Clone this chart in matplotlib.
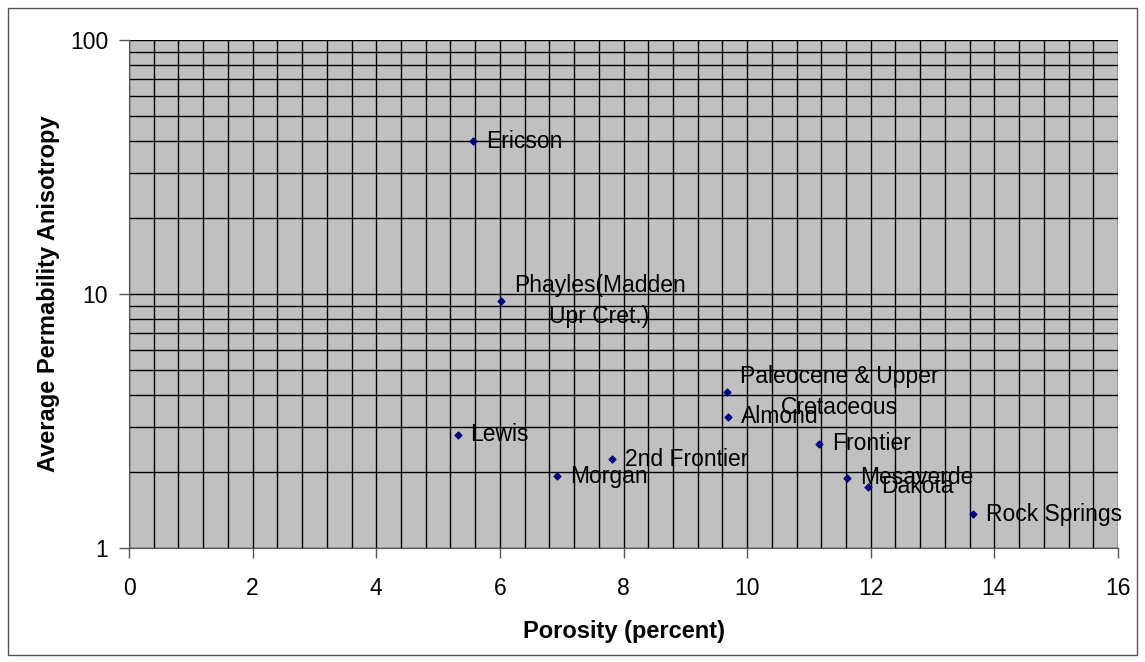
import matplotlib.pyplot as plt
from matplotlib.patches import Rectangle
from matplotlib.ticker import FixedLocator, FixedFormatter, LogLocator, MultipleLocator, NullFormatter

plt.rcParams['font.family'] = ['Liberation Sans', 'DejaVu Sans']

# Porosity (percent) and average permeability anisotropy per formation
names = ['Ericson', 'Phayles(Madden\nUpr Cret.)', 'Lewis', 'Morgan', '2nd Frontier',
         'Paleocene & Upper\nCretaceous', 'Almond', 'Frontier', 'Mesaverde',
         'Dakota', 'Rock Springs']
porosity = [5.57, 6.02, 5.32, 6.93, 7.82, 9.68, 9.69, 11.17, 11.62, 11.96, 13.66]
anisotropy = [40.0, 9.4, 2.79, 1.92, 2.24, 4.11, 3.28, 2.57, 1.89, 1.74, 1.36]

fig = plt.figure(figsize=(11.45, 6.62), dpi=100)
ax = fig.add_axes([0.1127, 0.1722, 0.8637, 0.7674])

# outer chart border
fig.patches.append(Rectangle((0.007, 0.01), 0.986, 0.978, transform=fig.transFigure,
                             fill=False, edgecolor='#555555', linewidth=1))

ax.set_facecolor('#C0C0C0')
ax.scatter(porosity, anisotropy, marker='D', s=12, color='#000080', zorder=3)

for name, x, y in zip(names, porosity, anisotropy):
    ax.annotate(name, (x, y), xytext=(9, 0), textcoords='offset points',
                ha='left', va='center', multialignment='center', fontsize=16.5,
                linespacing=1.45, zorder=4)

ax.set_yscale('log')
ax.set_ylim(1, 100)
ax.set_xlim(0, 16)

ax.yaxis.set_major_locator(FixedLocator([1, 10, 100]))
ax.yaxis.set_major_formatter(FixedFormatter(['1', '10', '100']))
ax.yaxis.set_minor_locator(LogLocator(base=10, subs=range(2, 10)))
ax.yaxis.set_minor_formatter(NullFormatter())
ax.xaxis.set_major_locator(MultipleLocator(2))
ax.xaxis.set_minor_locator(MultipleLocator(0.4))

ax.grid(True, which='both', color='black', linewidth=1)
ax.set_axisbelow(True)
ax.tick_params(which='major', direction='out', length=7, width=1, color='#555555',
               labelsize=16.5)
ax.tick_params(axis='x', which='major', pad=14)
ax.tick_params(axis='y', which='major', pad=8)
ax.tick_params(which='minor', length=0)

for side in ['top', 'right']:
    ax.spines[side].set_visible(False)
for side in ['left', 'bottom']:
    ax.spines[side].set_color('#555555')

ax.set_xlabel('Porosity (percent)', fontsize=17, fontweight='bold', labelpad=14)
ax.set_ylabel('Average Permability Anisotropy', fontsize=17, fontweight='bold', labelpad=7)

fig.savefig('out.png', dpi=100)
